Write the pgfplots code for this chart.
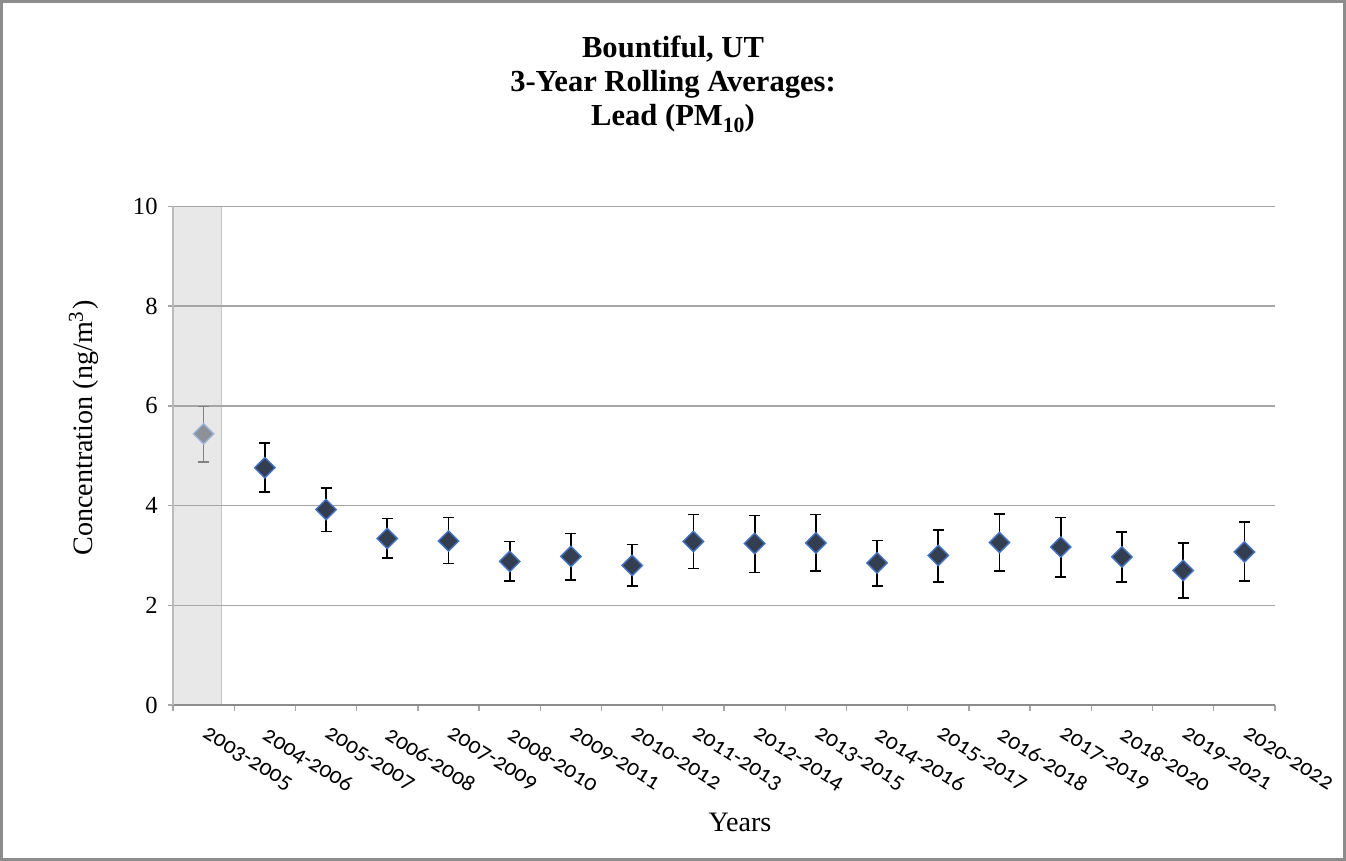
\documentclass[border=0pt]{standalone}
\usepackage{pgfplots}
\pgfplotsset{compat=1.18}
\usepackage{fontspec}
\setmainfont{Liberation Serif}
\newfontfamily\calibri[Numbers=OldStyle]{Carlito}

\definecolor{mfill}{HTML}{333F50}
\definecolor{medge}{HTML}{4472C4}
\definecolor{gfill}{HTML}{8C9099}
\definecolor{gedge}{HTML}{9DB3D9}
\definecolor{shade}{HTML}{E8E8E8}
\definecolor{gridc}{HTML}{A6A6A6}
\definecolor{framec}{HTML}{8C8C8C}

\begin{document}
\begin{tikzpicture}
% page frame, 1 px of the reference = 0.1 mm
\draw[framec, line width=0.3mm] (0.15mm,-0.15mm) rectangle (134.45mm,-85.95mm);

\node[font=\bfseries\fontsize{8.7}{9.6}\selectfont, align=center, anchor=north]
  at (67.3mm,-2.4mm) {Bountiful, UT\\3-Year Rolling Averages:\\Lead (PM\raisebox{-0.5ex}{\fontsize{6.2}{7}\selectfont 10})};

\node[rotate=90, font=\fontsize{8}{9}\selectfont] at (8.4mm,-42.8mm) {Concentration (ng/m\textsuperscript{3})};
\node[font=\fontsize{8}{9}\selectfont] at (74.0mm,-82.2mm) {Years};

\begin{axis}[
    set layers,
    scale only axis,
    width=110.2mm, height=49.85mm,
    at={(17.3mm,-70.5mm)}, anchor=south west,
    xmin=-0.5, xmax=17.5,
    ymin=0, ymax=10,
    ytick={0,2,...,10},
    xtick={0,...,17},
    xticklabels={2003-2005,2004-2006,2005-2007,2006-2008,2007-2009,2008-2010,2009-2011,2010-2012,2011-2013,2012-2014,2013-2015,2014-2016,2015-2017,2016-2018,2017-2019,2018-2020,2019-2021,2020-2022},
    minor xtick={-0.5,0.5,...,17.5},
    major x tick style={draw=none},
    minor tick length=0.6mm,
    major tick length=0.5mm,
    tick align=outside,
    tick style={gridc, line width=0.4pt},
    ymajorgrids,
    grid style={gridc, line width=0.45pt},
    axis x line*=bottom,
    axis y line*=left,
    x axis line style={-, draw=framec, line width=0.45pt},
    y axis line style={-, draw=shade!80!black, line width=0.3pt},
    /pgf/number format/assume math mode=true,
    yticklabel style={font=\fontsize{7}{8}\selectfont, xshift=0.2mm},
    xticklabel style={font=\calibri\fontsize{6.6}{8}\selectfont, rotate=-32, anchor=north west, xshift=0mm, yshift=0.1mm},
    clip=false,
]
% shaded first period
\addplot[fill=shade, draw=shade!85!black, line width=0.2pt, on layer=axis background]
  coordinates {(-0.5,0) (0.29,0) (0.29,10) (-0.5,10)} -- cycle;

% first period, grey
\addplot[only marks, mark=square*, mark size=0.72mm,
  mark options={rotate=45, fill=gfill, draw=gedge, line width=0.4pt},
  error bars/.cd, y dir=both, y explicit,
  error bar style={line width=0.45pt, gray},
  error mark options={rotate=90, mark size=0.55mm, line width=0.45pt, gray}]
  table[x=x, y=y, y error plus=ep, y error minus=em] {
x y ep em
0 5.44 0.55 0.57
};

% remaining periods
\addplot[only marks, mark=square*, mark size=0.72mm,
  mark options={rotate=45, fill=mfill, draw=medge, line width=0.4pt},
  error bars/.cd, y dir=both, y explicit,
  error bar style={line width=0.5pt, black},
  error mark options={rotate=90, mark size=0.55mm, line width=0.5pt, black}]
  table[x=x, y=y, y error plus=ep, y error minus=em] {
x  y    ep   em
1  4.76 0.49 0.49
2  3.92 0.44 0.44
3  3.34 0.40 0.39
4  3.29 0.47 0.45
5  2.88 0.40 0.40
6  2.98 0.46 0.48
7  2.80 0.42 0.42
8  3.28 0.54 0.54
9  3.24 0.56 0.58
10 3.25 0.57 0.56
11 2.85 0.45 0.47
12 3.00 0.51 0.53
13 3.26 0.57 0.57
14 3.17 0.59 0.60
15 2.97 0.50 0.51
16 2.70 0.55 0.55
17 3.07 0.60 0.59
};
\end{axis}
% keep the page exactly the frame
\pgfresetboundingbox
\path (0mm,0mm) rectangle (134.6mm,-86.1mm);
\end{tikzpicture}
\end{document}
